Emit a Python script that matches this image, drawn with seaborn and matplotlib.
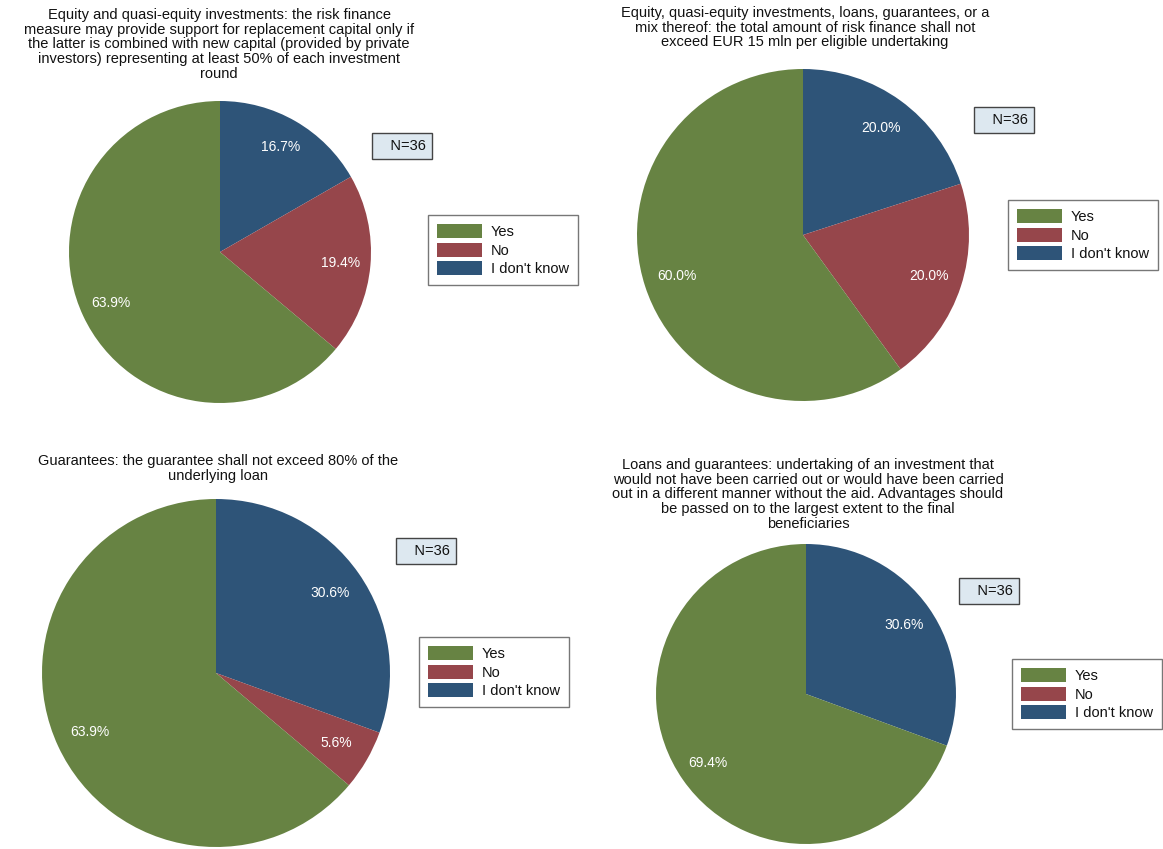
import matplotlib
matplotlib.use("Agg")
import matplotlib.pyplot as plt
from matplotlib.patches import Patch
import seaborn as sns

sns.set_style("white")
plt.rcParams['font.family'] = ['Liberation Sans', 'DejaVu Sans']

# data
categories = ["Yes", "No", "I don't know"]
titles = [
    "Equity and quasi-equity investments: the risk finance\nmeasure may provide support for replacement capital only if\nthe latter is combined with new capital (provided by private\ninvestors) representing at least 50% of each investment\nround",
    "Equity, quasi-equity investments, loans, guarantees, or a\nmix thereof: the total amount of risk finance shall not\nexceed EUR 15 mln per eligible undertaking",
    "Guarantees: the guarantee shall not exceed 80% of the\nunderlying loan",
    "Loans and guarantees: undertaking of an investment that\nwould not have been carried out or would have been carried\nout in a different manner without the aid. Advantages should\nbe passed on to the largest extent to the final\nbeneficiaries",
]
yes_pct = [63.9, 60.0, 63.9, 69.4]
no_pct = [19.4, 20.0, 5.6, 0.0]
dk_pct = [16.7, 20.0, 30.6, 30.6]
n_resp = [36, 36, 36, 36]

palette = sns.color_palette(["#678343", "#96464b", "#2e5478"])

W, H = 1163, 849
fig = plt.figure(figsize=(W / 100, H / 100), dpi=100)

# layout in pixels: pie centre / radius, title centre x + top y,
# N box centre, legend top-left corner
layout = [
    dict(cx=220, cy=252, r=151, tx=219, ty=8, nx=402, ny=146, lx=428, ly=215),
    dict(cx=803, cy=235, r=166, tx=805, ty=6, nx=1004, ny=120, lx=1008, ly=200),
    dict(cx=216, cy=673, r=174, tx=218, ty=454, nx=426, ny=551, lx=419, ly=637),
    dict(cx=806, cy=694, r=150, tx=808, ty=458, nx=989, ny=591, lx=1012, ly=659),
]


def make_fmt(total):
    def fmt(p):
        v = p * total / 100
        return f"{v:.1f}%" if v > 0 else ""
    return fmt


for i, L in enumerate(layout):
    r = L["r"]
    ax = fig.add_axes([(L["cx"] - r) / W, (H - L["cy"] - r) / H, 2 * r / W, 2 * r / H])
    vals = [dk_pct[i], no_pct[i], yes_pct[i]]
    cols = [palette[2], palette[1], palette[0]]
    ax.pie(vals, colors=cols, startangle=90, counterclock=False,
           autopct=make_fmt(sum(vals)), pctdistance=0.8,
           wedgeprops=dict(linewidth=0),
           textprops=dict(color="white", fontsize=10))
    ax.set_xlim(-1, 1)
    ax.set_ylim(-1, 1)
    ax.set_aspect("equal")

    fig.text(L["tx"] / W, 1 - L["ty"] / H, titles[i], ha="center", va="top",
             fontsize=10.5, linespacing=1.06, color="#111111")

    fig.text(L["nx"] / W, 1 - L["ny"] / H, f"   N={n_resp[i]}", ha="center", va="center",
             fontsize=10.5, color="#111111",
             bbox=dict(boxstyle="square,pad=0.4", facecolor="#dde8f0",
                       edgecolor="#444444", linewidth=1))

    handles = [Patch(facecolor=palette[k], edgecolor="none", label=categories[k]) for k in range(3)]
    leg = fig.legend(handles=handles, loc="upper left",
                     bbox_to_anchor=(L["lx"] / W, 1 - L["ly"] / H),
                     fontsize=10.5, frameon=True, fancybox=False,
                     handlelength=3.1, handleheight=1.1, labelspacing=0.25,
                     handletextpad=0.6, borderpad=0.62, borderaxespad=0,
                     labelcolor="#111111")
    leg.get_frame().set_edgecolor("#555555")
    leg.get_frame().set_linewidth(1)

fig.savefig("out.png", dpi=100)
